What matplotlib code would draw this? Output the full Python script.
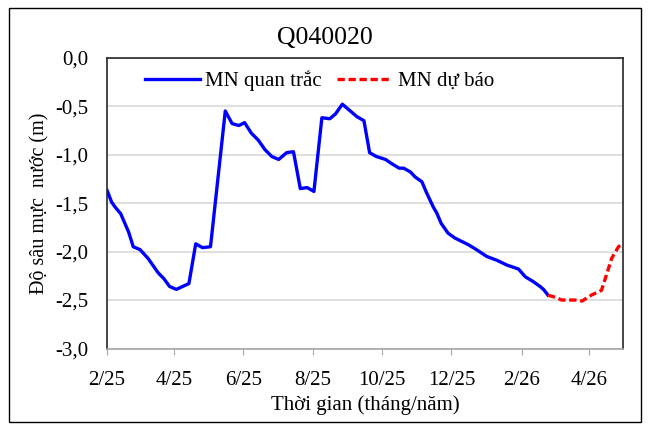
# Groundwater level chart Q040020: observed vs forecast

import pandas as pd
import matplotlib.pyplot as plt
import matplotlib.patches as mpatches

obs_dates = ['2025-02-01', '2025-02-05', '2025-02-08', '2025-02-13', '2025-02-20', '2025-02-24',
             '2025-03-02', '2025-03-09', '2025-03-18', '2025-03-23', '2025-03-28', '2025-04-03',
             '2025-04-14', '2025-04-20', '2025-04-26', '2025-05-03', '2025-05-16', '2025-05-22',
             '2025-05-28', '2025-06-02', '2025-06-08', '2025-06-14', '2025-06-20', '2025-06-26',
             '2025-07-02', '2025-07-09', '2025-07-15', '2025-07-21', '2025-07-27', '2025-08-02',
             '2025-08-09', '2025-08-16', '2025-08-21', '2025-08-27', '2025-09-03', '2025-09-09',
             '2025-09-15', '2025-09-20', '2025-09-26', '2025-10-04', '2025-10-09', '2025-10-16',
             '2025-10-20', '2025-10-26', '2025-10-30', '2025-11-05', '2025-11-09', '2025-11-15',
             '2025-11-18', '2025-11-22', '2025-11-28', '2025-12-04', '2025-12-16', '2025-12-23',
             '2026-01-01', '2026-01-10', '2026-01-19', '2026-01-29', '2026-02-04', '2026-02-11',
             '2026-02-17', '2026-02-20', '2026-02-24']
obs_values = [-1.37, -1.49, -1.54, -1.61, -1.80, -1.95,
              -1.98, -2.07, -2.22, -2.28, -2.36, -2.39,
              -2.33, -1.92, -1.96, -1.95, -0.55, -0.68,
              -0.70, -0.67, -0.78, -0.85, -0.95, -1.02,
              -1.05, -0.98, -0.97, -1.35, -1.34, -1.38,
              -0.62, -0.63, -0.58, -0.48, -0.55, -0.61,
              -0.65, -0.98, -1.02, -1.05, -1.09, -1.14,
              -1.14, -1.18, -1.23, -1.28, -1.39, -1.54,
              -1.60, -1.71, -1.81, -1.86, -1.93, -1.98,
              -2.05, -2.09, -2.14, -2.18, -2.26, -2.31,
              -2.36, -2.39, -2.45]

fc_dates = ['2026-02-24', '2026-03-02', '2026-03-08', '2026-03-14', '2026-03-20', '2026-03-26',
            '2026-04-03', '2026-04-12', '2026-04-17', '2026-04-21', '2026-04-27', '2026-04-30']
fc_values = [-2.45, -2.47, -2.50, -2.50, -2.50, -2.51,
             -2.45, -2.40, -2.22, -2.07, -1.95, -1.92]

tick_dates = ['2025-02-01', '2025-04-01', '2025-06-01', '2025-08-01',
              '2025-10-01', '2025-12-01', '2026-02-01', '2026-04-01']
tick_labels = ['2/25', '4/25', '6/25', '8/25', '10/25', '12/25', '2/26', '4/26']
y_ticks = [0.0, -0.5, -1.0, -1.5, -2.0, -2.5, -3.0]

plt.rcParams['font.family'] = ['Liberation Serif', 'DejaVu Serif']

obs = pd.DataFrame({'date': pd.to_datetime(obs_dates), 'value': obs_values})
fc = pd.DataFrame({'date': pd.to_datetime(fc_dates), 'value': fc_values})

fig = plt.figure(figsize=(6.49, 4.29), dpi=100)
ax = fig.add_axes([0.165, 0.1876, 0.795, 0.678])

# outer chart border
fig.patches.append(mpatches.Rectangle((0.014, 0.016), 0.974, 0.966, transform=fig.transFigure,
                                      fill=False, edgecolor='black', linewidth=1.0))

ax.plot(obs['date'], obs['value'], color='#0000ff', linewidth=2.4, label='MN quan trắc')
ax.plot(fc['date'], fc['value'], color='#ff0000', linewidth=2.4, linestyle=(0, (2.2, 1.1)),
        label='MN dự báo')

ax.set_xlim(pd.Timestamp('2025-02-01'), pd.Timestamp('2026-05-01'))
ax.set_ylim(-3.0, 0.0)
ax.set_yticks(y_ticks)
ax.set_yticklabels([f'{v:.1f}'.replace('.', ',') for v in y_ticks], fontsize=15)
ax.set_xticks(pd.to_datetime(tick_dates))
ax.set_xticklabels(tick_labels, fontsize=15)

ax.tick_params(axis='y', length=0, pad=13.5)
ax.tick_params(axis='x', length=4, color='#a6a6a6', pad=12)
ax.grid(axis='y', color='#d9d9d9', linewidth=1.2)
ax.set_axisbelow(True)
for side in ['left', 'top', 'right']:
    ax.spines[side].set_color('#262626')
    ax.spines[side].set_linewidth(1.2)
ax.spines['bottom'].set_color('#a6a6a6')
ax.spines['bottom'].set_linewidth(1.2)

fig.text(0.5, 1 - 38 / 429, 'Q040020', fontsize=18.5, ha='center', va='center')
ax.set_xlabel('Thời gian (tháng/năm)', fontsize=15, labelpad=4)
ax.set_ylabel('Độ sâu mực  nước (m)', fontsize=14.5, labelpad=4)

ax.legend(loc='upper left', ncol=2, frameon=False, fontsize=15, bbox_to_anchor=(0.0736, 0.955),
          borderaxespad=0, borderpad=0, handlelength=2.65, columnspacing=0.72,
          handletextpad=0.25)

fig.savefig('out.png', dpi=100)
